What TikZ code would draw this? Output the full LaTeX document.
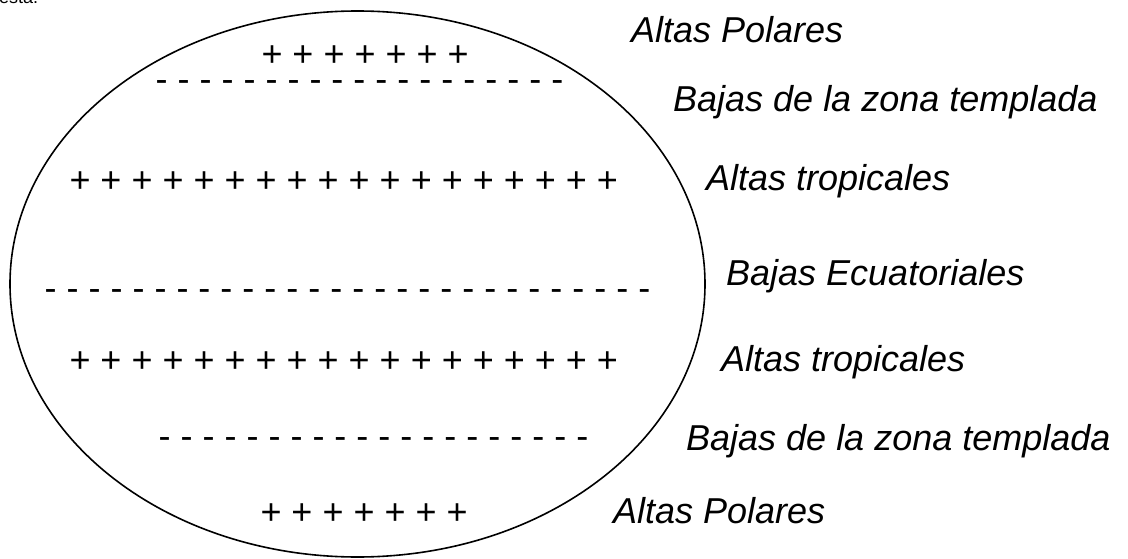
\documentclass[tikz,border=0pt]{standalone}
\usepackage{fontspec}
\setmainfont{Liberation Sans}
\begin{document}
\begin{tikzpicture}[x=1pt,y=-1pt,
  lbl/.style={font=\fontsize{36}{40}\selectfont\itshape, anchor=base west, inner sep=0pt},
  marks/.style={font=\fontsize{36}{40}\selectfont, anchor=base west, inner sep=0pt, text depth=0pt},
  highs/.style={marks, text height=22pt},
  lows/.style={marks, text height=12pt},
  cut/.style={font=\fontsize{18}{20}\selectfont, anchor=base west, inner sep=0pt},
  globe/.style={line width=1.6pt}]
\useasboundingbox (0,0) rectangle (1128,559);
\clip (0,0) rectangle (1128,559);
\fill[white] (0,0) rectangle (1128,559);
\node[cut] (prev) at (-1,4) {esta.};
\draw[globe] (357.5,284) ellipse [x radius=347.5pt, y radius=273pt];
% rows of highs and lows
\node[highs] (r1) at (261.3,66.7) {+ + + + + + +};
\node[lows] (r2) at (155.4,91.3) {- - - - - - - - - - - - - - - - - - -};
\node[highs] (r3) at (69.3,192.7) {+ + + + + + + + + + + + + + + + + +};
\node[lows] (r4) at (44.4,300.3) {- - - - - - - - - - - - - - - - - - - - - - - - - - - -};
\node[highs] (r5) at (69.3,372.7) {+ + + + + + + + + + + + + + + + + +};
\node[lows] (r6) at (158.4,448.3) {- - - - - - - - - - - - - - - - - - - -};
\node[highs] (r7) at (260.3,524.7) {+ + + + + + +};
% labels
\node[lbl] (l1) at (631,43) {Altas Polares};
\node[lbl] (l2) at (673,112) {Bajas de la zona templada};
\node[lbl] (l3) at (706,190) {Altas tropicales};
\node[lbl] (l4) at (726,285) {Bajas Ecuatoriales};
\node[lbl] (l5) at (721,371) {Altas tropicales};
\node[lbl] (l6) at (686,450) {Bajas de la zona templada};
\node[lbl] (l7) at (613,523) {Altas Polares};
\end{tikzpicture}
\end{document}
